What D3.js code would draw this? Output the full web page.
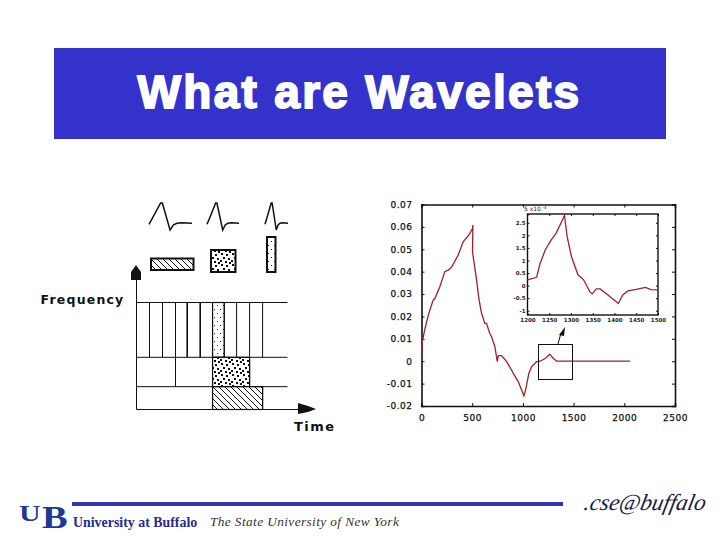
<!DOCTYPE html>
<html>
<head>
  <meta charset="utf-8">
  <title>What are Wavelets</title>
  <script src="https://cdnjs.cloudflare.com/ajax/libs/d3/7.8.5/d3.min.js"></script>
  <style>
    html, body { margin: 0; padding: 0; background: #fff; }
    svg { display: block; }
  </style>
</head>
<body>
  <svg id="slide" width="720" height="540"></svg>
  <script>
    const titleText = 'What are Wavelets';

    // signal, main plot
    const signalX = [0, 8, 25, 50, 82, 115, 132, 181, 230, 263, 296, 362, 411, 470, 503, 507, 503, 543, 566, 592, 625, 641, 674, 691, 724, 747, 757, 789, 839, 888, 905, 954, 987, 1010, 1026, 1059, 1086, 1135, 1168, 1224, 1266, 1299, 1332, 2056];
    const signalY = [0.0005, 0.0087, 0.0125, 0.0176, 0.0228, 0.0273, 0.028, 0.0333, 0.04, 0.0407, 0.0419, 0.0474, 0.0533, 0.0565, 0.0593, 0.0608, 0.0489, 0.0362, 0.028, 0.0214, 0.0169, 0.0169, 0.0124, 0.0109, 0.0065, -0.0002, 0.0025, 0.0025, -0.0002, -0.0039, -0.0054, -0.0091, -0.0129, -0.0155, -0.0129, -0.0054, -0.0024, -0.0002, 0, 0.0013, 0.0031, 0.0013, 0, 0];
    const mainXTicks = [0, 500, 1000, 1500, 2000, 2500];
    const mainYTicks = [0.07, 0.06, 0.05, 0.04, 0.03, 0.02, 0.01, 0, -0.01, -0.02];

    // zoomed part of the signal, values x 10^-3
    const insetX = [1200, 1221, 1228, 1241, 1255, 1266, 1285, 1291, 1301, 1316, 1329, 1343, 1349, 1358, 1367, 1385, 1409, 1419, 1431, 1450, 1471, 1484, 1500];
    const insetY = [0.23, 0.33, 0.83, 1.43, 1.83, 2.09, 2.79, 1.96, 1.16, 0.43, 0.23, -0.24, -0.33, -0.13, -0.13, -0.37, -0.71, -0.37, -0.21, -0.15, -0.07, -0.16, -0.17];
    const insetXTicks = [1200, 1250, 1300, 1350, 1400, 1450, 1500];
    const insetYTicks = [2.5, 2, 1.5, 1, 0.5, 0, -0.5, -1];

    // time-frequency tiling, in cell units
    const topRowCuts = [1, 2, 3, 3.9, 4.9, 5.85, 6.75, 7.7, 8.7, 9.7];
    const midRowCuts = [3, 5.85, 8.7];
    const lowRowCuts = [5.85, 9.7];
    const freqLines = [0, 1.75, 4, 8.2];
    const heavyCuts = [3.9, 4.9];

    // the wavelet sketch (time, amplitude)
    const waveT = [0, 0.08, 0.27, 0.31, 0.49, 0.57, 0.65, 0.76, 1];
    const waveA = [-0.05, 0.25, 1, 1, -0.33, -0.08, 0, 0.03, 0];

    const svg = d3.select('#slide');
    const defs = svg.append('defs');
    const blue = '#3333cc';
    const red = '#a0202c';

    // patterns
    const hatch = defs.append('pattern').attr('id', 'hatch').attr('patternUnits', 'userSpaceOnUse').attr('width', 6).attr('height', 6);
    hatch.append('rect').attr('width', 6).attr('height', 6).attr('fill', '#fff');
    hatch.append('path').attr('d', 'M-1,-1L7,7M-4,2L4,10M2,-4L10,4').attr('stroke', '#111').attr('stroke-width', 1);

    const dots = defs.append('pattern').attr('id', 'dots').attr('patternUnits', 'userSpaceOnUse').attr('width', 11).attr('height', 11);
    dots.append('rect').attr('width', 11).attr('height', 11).attr('fill', '#fff');
    [[1, 0], [6, 1], [3, 4], [8, 5], [0, 7], [5, 8], [9, 9]].forEach(d => {
      dots.append('rect').attr('x', d[0]).attr('y', d[1]).attr('width', 2).attr('height', 2).attr('fill', '#111');
    });

    const fine = defs.append('pattern').attr('id', 'fine').attr('patternUnits', 'userSpaceOnUse').attr('width', 6).attr('height', 8);
    fine.append('rect').attr('width', 6).attr('height', 8).attr('fill', '#fff');
    fine.append('rect').attr('x', 1).attr('y', 1).attr('width', 1).attr('height', 1).attr('fill', '#222');
    fine.append('rect').attr('x', 4).attr('y', 5).attr('width', 1).attr('height', 1).attr('fill', '#222');

    // title banner
    svg.append('rect').attr('x', 54).attr('y', 48).attr('width', 612).attr('height', 91).attr('fill', blue);
    svg.append('text').attr('x', 359.5).attr('y', 108).attr('text-anchor', 'middle')
      .attr('font-family', 'Liberation Sans').attr('font-weight', 700).attr('font-size', 46)
      .attr('letter-spacing', 2.3).attr('fill', '#fff').attr('stroke', '#fff').attr('stroke-width', 1.8)
      .text(titleText);

    // ---- left diagram ----
    const tScale = d3.scaleLinear().domain([0, 10]).range([136.5, 266.5]);
    const fScale = d3.scaleLinear().domain([0, 8.2]).range([409.5, 302.5]);
    const ink = '#111';
    const left = svg.append('g');

    function tile(t0, t1, f0, f1, fill) {
      left.append('rect')
        .attr('x', tScale(t0)).attr('y', fScale(f1))
        .attr('width', tScale(t1) - tScale(t0)).attr('height', fScale(f0) - fScale(f1))
        .attr('fill', 'url(#' + fill + ')').attr('stroke', ink).attr('stroke-width', 1.2);
    }
    tile(5.85, 6.75, 4, 8.2, 'fine');
    tile(5.85, 8.7, 1.75, 4, 'dots');
    tile(5.85, 9.7, 0, 1.75, 'hatch');

    freqLines.slice(1).forEach(f => {
      left.append('line').attr('x1', tScale(0)).attr('x2', 287.5)
        .attr('y1', fScale(f)).attr('y2', fScale(f)).attr('stroke', ink).attr('stroke-width', 1);
    });
    left.append('line').attr('x1', tScale(0)).attr('x2', 305)
      .attr('y1', fScale(0)).attr('y2', fScale(0)).attr('stroke', ink).attr('stroke-width', 1);
    left.append('line').attr('x1', tScale(0)).attr('x2', tScale(0))
      .attr('y1', 272).attr('y2', fScale(0)).attr('stroke', ink).attr('stroke-width', 1);

    topRowCuts.forEach(t => {
      left.append('line').attr('x1', tScale(t)).attr('x2', tScale(t))
        .attr('y1', fScale(8.2)).attr('y2', fScale(4)).attr('stroke', ink)
        .attr('stroke-width', heavyCuts.includes(t) ? 1.6 : 1);
    });
    midRowCuts.forEach(t => {
      left.append('line').attr('x1', tScale(t)).attr('x2', tScale(t))
        .attr('y1', fScale(4)).attr('y2', fScale(1.75)).attr('stroke', ink).attr('stroke-width', 1);
    });
    lowRowCuts.forEach(t => {
      left.append('line').attr('x1', tScale(t)).attr('x2', tScale(t))
        .attr('y1', fScale(1.75)).attr('y2', fScale(0)).attr('stroke', ink).attr('stroke-width', 1);
    });

    // arrow heads
    left.append('path').attr('d', 'M136,265 L141,272 L141,280 L131,280 L131,272 Z').attr('fill', ink);
    left.append('path').attr('d', 'M298,403 L308,406 L316,409 L308,412 L298,414 Z').attr('fill', ink);

    const labelFont = 'DejaVu Sans';
    left.append('text').attr('x', 40.5).attr('y', 304).attr('font-family', labelFont).attr('font-weight', 700)
      .attr('font-size', 12.5).attr('letter-spacing', 1.2).attr('fill', '#111').text('Frequency');
    left.append('text').attr('x', 294).attr('y', 431).attr('font-family', labelFont).attr('font-weight', 700)
      .attr('font-size', 13).attr('letter-spacing', 1.5).attr('fill', '#111').text('Time');

    // wavelets and their boxes
    const sketches = [
      { x0: 149, x1: 192, boxX: 151, boxY: 258.5, boxW: 42.5, boxH: 11.5, fill: 'hatch' },
      { x0: 207, x1: 239, boxX: 211, boxY: 250, boxW: 24.5, boxH: 22, fill: 'dots' },
      { x0: 265, x1: 288, boxX: 267, boxY: 237, boxW: 8.5, boxH: 35, fill: 'fine' }
    ];
    const ampY = d3.scaleLinear().domain([-0.33, 1]).range([230, 203]);
    sketches.forEach(s => {
      const tw = d3.scaleLinear().domain([0, 1]).range([s.x0, s.x1]);
      const wave = d3.line().x((d, i) => tw(waveT[i])).y(d => ampY(d));
      left.append('path').attr('d', wave(waveA)).attr('fill', 'none').attr('stroke', '#111').attr('stroke-width', 1.5);
      left.append('rect').attr('x', s.boxX).attr('y', s.boxY).attr('width', s.boxW).attr('height', s.boxH)
        .attr('fill', 'url(#' + s.fill + ')').attr('stroke', '#111').attr('stroke-width', 2);
    });

    // ---- main plot ----
    const x = d3.scaleLinear().domain([0, 2500]).range([421.5, 675]);
    const y = d3.scaleLinear().domain([-0.02, 0.07]).range([406, 204.5]);
    const plot = svg.append('g');
    const tickFont = 'DejaVu Sans';

    const axB = plot.append('g').attr('transform', 'translate(0,406)')
      .call(d3.axisBottom(x).tickValues(mainXTicks).tickFormat(d3.format('d')).tickSize(-3).tickPadding(9));
    const axL = plot.append('g').attr('transform', 'translate(421.5,0)')
      .call(d3.axisLeft(y).tickValues(mainYTicks).tickFormat(d => d === 0 ? '0' : String(d)).tickSize(-3).tickPadding(9));
    const axT = plot.append('g').attr('transform', 'translate(0,204.5)')
      .call(d3.axisTop(x).tickValues(mainXTicks).tickFormat('').tickSize(-3));
    const axR = plot.append('g').attr('transform', 'translate(675,0)')
      .call(d3.axisRight(y).tickValues(mainYTicks).tickFormat('').tickSize(-3));
    [axB, axL, axT, axR].forEach(a => {
      a.select('.domain').attr('stroke', '#111').attr('stroke-width', 1.6);
      a.selectAll('text').attr('font-family', tickFont).attr('font-size', 9).attr('letter-spacing', 0.5)
        .attr('fill', '#111').attr('stroke', '#111').attr('stroke-width', 0.25);
      a.selectAll('line').attr('stroke', '#111');
    });

    const mainLine = d3.line().x((d, i) => x(signalX[i])).y(d => y(d));
    plot.append('path').attr('d', mainLine(signalY)).attr('fill', 'none').attr('stroke', red).attr('stroke-width', 1.3);

    // zoom box and pointer
    plot.append('rect').attr('x', 538.5).attr('y', 344.5).attr('width', 34).attr('height', 35)
      .attr('fill', 'none').attr('stroke', '#111').attr('stroke-width', 1);
    plot.append('line').attr('x1', 558).attr('y1', 344).attr('x2', 561).attr('y2', 333).attr('stroke', '#111');
    plot.append('path').attr('d', 'M565,327 L564,336 L559,335 Z').attr('fill', '#111');

    // ---- inset ----
    const ix = d3.scaleLinear().domain([1200, 1500]).range([527.5, 658]);
    const iy = d3.scaleLinear().domain([-1.17, 2.85]).range([315, 214]);
    const inset = svg.append('g');
    inset.append('rect').attr('x', 527.5).attr('y', 214).attr('width', 130.5).attr('height', 101)
      .attr('fill', '#fff').attr('stroke', '#111').attr('stroke-width', 1.4);

    const ibx = inset.append('g').attr('transform', 'translate(0,315)')
      .call(d3.axisBottom(ix).tickValues(insetXTicks).tickFormat(d3.format('d')).tickSize(-2).tickPadding(3));
    const ily = inset.append('g').attr('transform', 'translate(527.5,0)')
      .call(d3.axisLeft(iy).tickValues(insetYTicks).tickFormat(d => String(d)).tickSize(-2).tickPadding(2));
    const ibt = inset.append('g').attr('transform', 'translate(0,214)')
      .call(d3.axisTop(ix).tickValues(insetXTicks).tickFormat('').tickSize(-2));
    const ibr = inset.append('g').attr('transform', 'translate(658,0)')
      .call(d3.axisRight(iy).tickValues(insetYTicks).tickFormat('').tickSize(-2));
    [ibx, ily, ibt, ibr].forEach(a => {
      a.select('.domain').remove();
      a.selectAll('text').attr('font-family', tickFont).attr('font-size', 5.5).attr('font-weight', 700).attr('fill', '#222');
      a.selectAll('line').attr('stroke', '#111');
    });
    inset.append('text').attr('x', 524).attr('y', 211).attr('font-family', tickFont).attr('font-size', 6).attr('fill', '#222').text('5 x10');
    inset.append('text').attr('x', 542).attr('y', 208.5).attr('font-family', tickFont).attr('font-size', 4.5).attr('fill', '#222').text('-3');

    const insetLine = d3.line().x((d, i) => ix(insetX[i])).y(d => iy(d));
    inset.append('path').attr('d', insetLine(insetY)).attr('fill', 'none').attr('stroke', red).attr('stroke-width', 1.3);

    // ---- footer ----
    const foot = svg.append('g');
    foot.append('rect').attr('x', 72).attr('y', 502).attr('width', 491).attr('height', 4).attr('fill', '#3333b8');
    foot.append('text').attr('x', 73).attr('y', 527).attr('font-family', 'Liberation Serif').attr('font-weight', 700)
      .attr('font-size', 13.9).attr('fill', '#2a2a90').text('University at Buffalo');
    foot.append('text').attr('x', 210).attr('y', 526).attr('font-family', 'Liberation Serif').attr('font-style', 'italic')
      .attr('font-size', 13.3).attr('letter-spacing', 0.4).attr('fill', '#333').text('The State University of New York');
    // UB logo letters
    foot.append('text').attr('transform', 'translate(19,521) scale(1.25,1)').attr('font-family', 'Liberation Serif')
      .attr('font-weight', 700).attr('font-size', 24).attr('fill', '#1c3a94').text('U');
    foot.append('text').attr('transform', 'translate(42,528) scale(1.2,1)').attr('font-family', 'Liberation Serif')
      .attr('font-weight', 700).attr('font-size', 32).attr('fill', '#1c3a94').text('B');
    foot.append('text').attr('transform', 'translate(583,510) skewX(-12)').attr('font-family', 'Liberation Serif')
      .attr('font-style', 'italic').attr('font-size', 23).attr('fill', '#1a1a4a').text('.cse@buffalo');
  </script>
</body>
</html>
